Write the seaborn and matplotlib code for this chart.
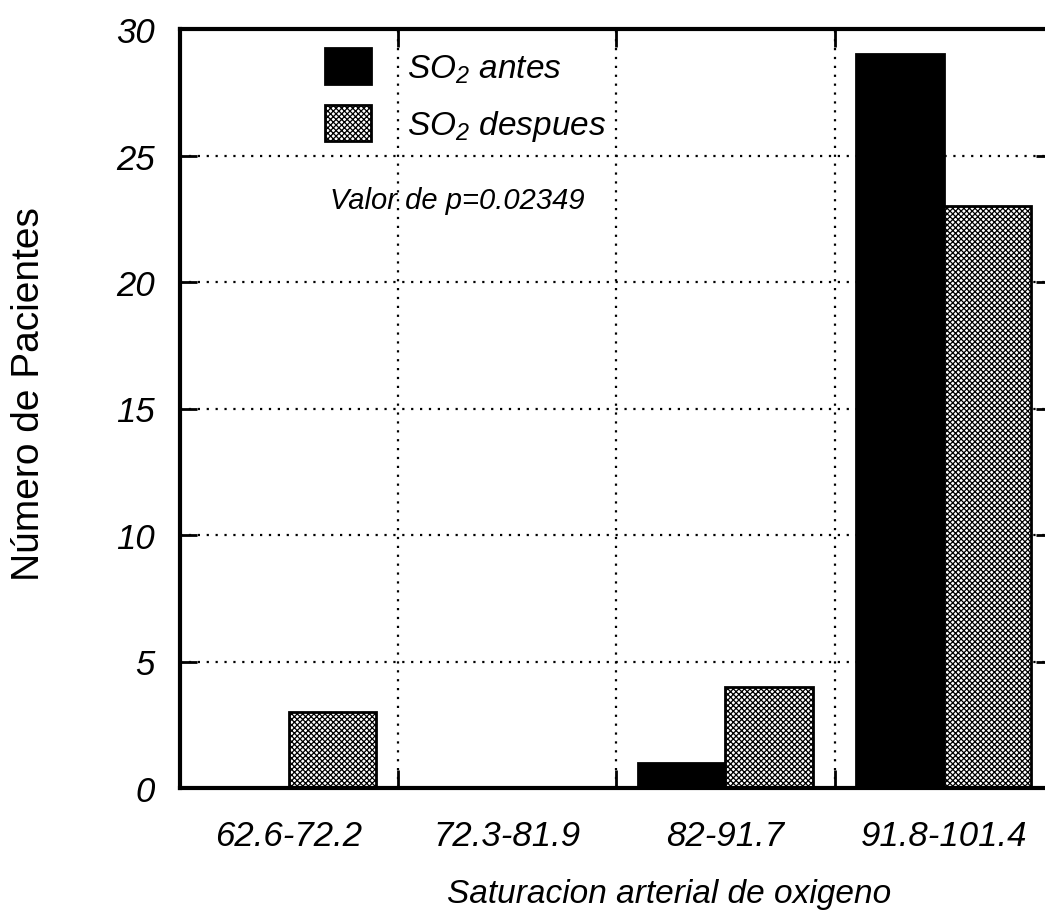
import matplotlib
matplotlib.use("Agg")
import matplotlib.pyplot as plt
import seaborn as sns
import pandas as pd

categories = ["62.6-72.2", "72.3-81.9", "82-91.7", "91.8-101.4"]
so2_antes = [0, 0, 1, 29]
so2_despues = [3, 0, 4, 23]
series_labels = ["SO$_2$ antes", "SO$_2$ despues"]
y_ticks = [0, 5, 10, 15, 20, 25, 30]

sns.set_theme(style="white")
plt.rcParams["font.family"] = ["Liberation Sans", "DejaVu Sans"]
plt.rcParams["mathtext.fontset"] = "custom"
plt.rcParams["mathtext.it"] = "Liberation Sans:italic"
plt.rcParams["mathtext.rm"] = "Liberation Sans:italic"
plt.rcParams["hatch.linewidth"] = 0.9
for k in ["text.color", "axes.labelcolor", "xtick.color", "ytick.color"]:
    plt.rcParams[k] = "black"

df = pd.DataFrame({
    "cat": categories * 2,
    "val": so2_antes + so2_despues,
    "serie": [series_labels[0]] * 4 + [series_labels[1]] * 4,
})

fig = plt.figure(figsize=(10.45, 9.2), dpi=100)
ax = fig.add_axes([179.5 / 1045, 1 - 789 / 920, 873.5 / 1045, 759 / 920])

sns.barplot(data=df, x="cat", y="val", hue="serie", order=categories,
            hue_order=series_labels, palette=["black", "white"],
            width=0.8, gap=0, edgecolor="black", linewidth=2,
            legend=False, ax=ax, zorder=3)

for p in ax.containers[1]:
    p.set_hatch("xxxxxx")
    p.set_facecolor("white")
    p.set_edgecolor("black")

ax.set_xlim(-0.5, 3.5)
ax.set_ylim(0, 30)
ax.set_yticks(y_ticks)
ax.set_yticklabels([str(t) for t in y_ticks], fontsize=25, style="italic")
ax.set_xticks(range(len(categories)))
ax.set_xticklabels(categories, fontsize=25, style="italic")
ax.tick_params(axis="x", which="major", length=0, pad=22)
ax.tick_params(axis="y", which="major", pad=18)
ax.set_xticks([0.5, 1.5, 2.5], minor=True)
ax.tick_params(axis="x", which="minor", direction="in", length=13, width=2,
               top=True, bottom=True)
for y in y_ticks[1:-1]:
    ax.axhline(y, color="black", linestyle=(0, (1, 3)), linewidth=1.6, zorder=1)
for x in [0.5, 1.5, 2.5]:
    ax.axvline(x, color="black", linestyle=(0, (1, 3)), linewidth=1.6, zorder=1)
ax.tick_params(axis="y", which="both", direction="in", length=12, width=2,
               left=True, right=True)
ax.grid(False)

for s in ax.spines.values():
    s.set_visible(True)
    s.set_color("black")
    s.set_linewidth(3)
    s.set_zorder(4)

ax.set_xlabel("Saturacion arterial de oxigeno", fontsize=24, style="italic")
ax.set_ylabel("Número de Pacientes", fontsize=28)
ax.xaxis.set_label_coords((669 - 179.5) / 873.5, (789 - 895) / 759)
ax.xaxis.label.set_va("center")
ax.yaxis.set_label_coords((47 - 179.5) / 873.5, (789 - 394) / 759)

leg = ax.legend(ax.containers, series_labels, loc="upper left",
                bbox_to_anchor=(0.147, 0.997), frameon=False,
                prop={"size": 24, "style": "italic"},
                handlelength=1.38, handleheight=1.3, handletextpad=1.1,
                labelspacing=0.6, borderpad=0)

ax.text(0.318, 0.775, "Valor de p=0.02349", transform=ax.transAxes,
        ha="center", va="center", fontsize=21, style="italic", zorder=5)

fig.savefig("out.png", dpi=100)
